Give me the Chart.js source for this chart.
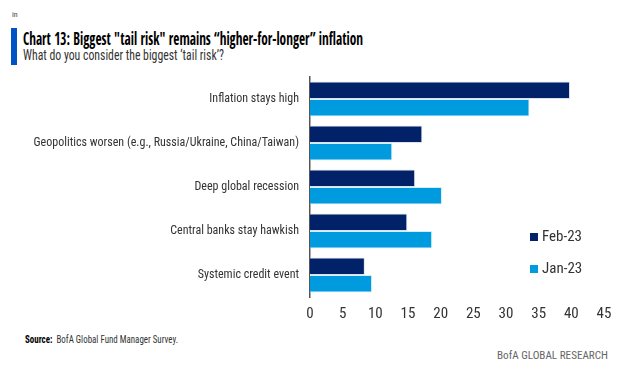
<!DOCTYPE html>
<html>
<head>
<meta charset="utf-8">
<script src="https://cdn.jsdelivr.net/npm/chart.js@4.4.0/dist/chart.umd.min.js"></script>
<style>
  body { margin: 0; background: #fff; width: 622px; height: 372px; position: relative; overflow: hidden;
         font-family: "Roboto Condensed", sans-serif; }
  #in { position: absolute; left: 12px; top: 10px; font-size: 8px; color: #444; }
  #bar { position: absolute; left: 11px; top: 28px; width: 6px; height: 37px; background: #0053c6; }
  .fit { position: absolute; left: 23px; white-space: nowrap; transform-origin: 0 0; }
  #title { top: 27px; font-size: 17px; font-family: "Open Sans Condensed", "Roboto Condensed", sans-serif; font-weight: bold; color: #000; }
  #sub { top: 46px; font-size: 15px; color: #333; }
  #source { left: 25px; top: 333px; font-size: 11px; color: #333; }
  #source b { color: #000; }
  #brand { left: 497px; top: 349px; font-size: 11px; color: #666; }
  #wrap { position: absolute; left: 0; top: 70px; width: 622px; height: 260px; }
</style>
</head>
<body>
<div id="in">in</div>
<div id="bar"></div>
<div id="title" class="fit" data-w="340">Chart 13: Biggest "tail risk" remains “higher-for-longer” inflation</div>
<div id="sub" class="fit" data-w="201">What do you consider the biggest ‘tail risk’?</div>
<div id="wrap"><canvas id="chart"></canvas></div>
<div id="source" class="fit" data-w="153"><b>Source:</b>&nbsp; BofA Global Fund Manager Survey.</div>
<div id="brand" class="fit" data-w="111">BofA GLOBAL RESEARCH</div>

<script>
// ----------------------------
//  dados
// ----------------------------
const categories = [
    "Inflation stays high",
    "Geopolitics worsen (e.g., Russia/Ukraine, China/Taiwan)",
    "Deep global recession",
    "Central banks stay hawkish",
    "Systemic credit event"
];
const feb23 = [39.8, 17.2, 16.1, 14.9, 8.4];
const jan23 = [33.6, 12.6, 20.2, 18.7, 9.5];
const xTicks = [0, 5, 10, 15, 20, 25, 30, 35, 40, 45];

const navy = "#012169";
const sky = "#009ade";
const font = "'Roboto Condensed', sans-serif";

// textos html apertados na largura do original
document.querySelectorAll('.fit').forEach(el => {
    const w = el.getBoundingClientRect().width;
    el.style.transform = "scaleX(" + (el.dataset.w / w) + ")";
});

// legenda desenhada dentro da área do gráfico
const innerLegend = {
    id: 'innerLegend',
    afterDraw(chart) {
        const c = chart.ctx;
        const a = chart.chartArea;
        c.save();
        c.font = "15px " + font;
        c.textBaseline = "middle";
        chart.data.datasets.forEach((ds, i) => {
            const x = a.right - 74;
            const y = a.top + 160 + i * 32;
            c.fillStyle = ds.backgroundColor;
            c.fillRect(x, y - 4, 8, 8);
            c.fillStyle = "#333";
            c.fillText(ds.label, x + 12, y);
        });
        c.restore();
    }
};

const ctx = document.getElementById('chart').getContext('2d');

new Chart(ctx, {
    type: 'bar',
    data: {
        labels: categories,
        datasets: [
            { label: 'Feb-23', data: feb23, backgroundColor: navy, borderColor: "#dde3ee", borderWidth: 1 },
            { label: 'Jan-23', data: jan23, backgroundColor: sky, borderColor: "#d6eefa", borderWidth: 1 }
        ]
    },
    options: {
        indexAxis: 'y',
        responsive: true,
        maintainAspectRatio: false,
        animation: false,
        layout: { padding: { top: 7, right: 18, left: 0, bottom: 0 } },
        datasets: { bar: { categoryPercentage: 0.8, barPercentage: 1.0 } },
        plugins: {
            legend: { display: false },
            tooltip: { enabled: false }
        },
        scales: {
            x: {
                min: 0,
                max: 45,
                afterBuildTicks(scale) { scale.ticks = xTicks.map(v => ({ value: v })); },
                afterFit(scale) { scale.height = 33; scale.paddingLeft = 0; scale.paddingRight = 0; },
                grid: { display: false, drawTicks: false },
                border: { display: false },
                ticks: { color: "#333", font: { family: font, size: 15 }, padding: 8 }
            },
            y: {
                afterFit(scale) { scale.width = 310; scale.paddingTop = 0; scale.paddingBottom = 0; },
                grid: { display: false, drawTicks: false },
                border: { display: true, color: "#555", width: 1.5 },
                ticks: { color: "#333", font: { family: font, size: 12 }, padding: 11 }
            }
        }
    },
    plugins: [innerLegend]
});
</script>
</body>
</html>
